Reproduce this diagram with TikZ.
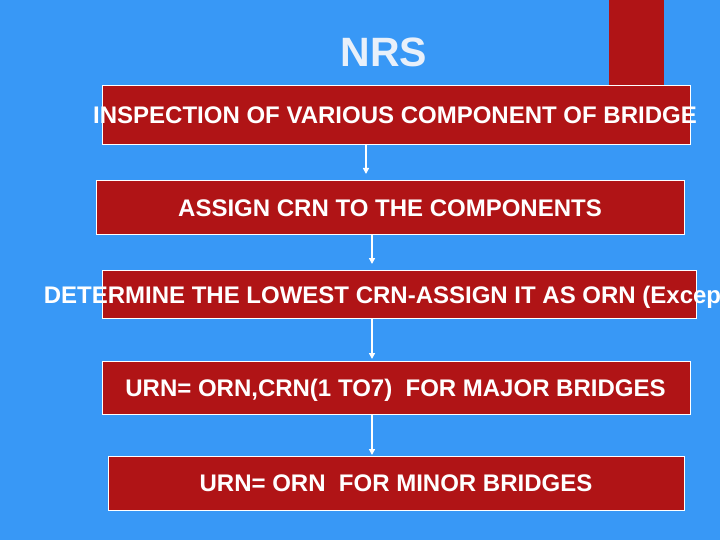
\documentclass[tikz,border=0pt]{standalone}
\usepackage{fontspec}
\setmainfont{Liberation Sans}
\usetikzlibrary{arrows.meta}
\definecolor{bgblue}{RGB}{56,152,246}
\definecolor{boxred}{RGB}{176,20,22}
\definecolor{titlecol}{RGB}{232,240,250}
\tikzset{
  stepbox/.style={fill=boxred,draw=white,line width=0.8pt},
  boxtext/.style={text=white,font=\fontsize{24}{28}\selectfont\bfseries,inner sep=0pt,anchor=base},
  flow/.style={draw=white,line width=1.4pt,-{Triangle[length=6pt,width=6pt]}}
}
\begin{document}
\begin{tikzpicture}[x=1pt,y=-1pt]
\useasboundingbox (0,0) rectangle (720,540);
\fill[bgblue] (0,0) rectangle (720,540);
% red bar top
\fill[boxred] (609,0) rectangle (664,85);
% title
\node[text=titlecol,font=\fontsize{41}{46}\selectfont\bfseries,inner sep=0pt,anchor=base] (title) at (384,67) {NRS};
% boxes
\draw[stepbox] (102,85) rectangle (690,144);
\coordinate (b1s) at (366,144);
\draw[stepbox] (96,180) rectangle (684,234);
\coordinate (b2n) at (366,174);
\coordinate (b2s) at (372,234);
\draw[stepbox] (102,270) rectangle (696,318);
\coordinate (b3n) at (372,264);
\coordinate (b3s) at (372,318);
\draw[stepbox] (102,361) rectangle (690,414);
\coordinate (b4n) at (372,359);
\coordinate (b4s) at (372,414);
\draw[stepbox] (108,456) rectangle (684,510);
\coordinate (b5n) at (372,455);
% texts
\node[boxtext] (t1) at (395,123.5) {INSPECTION OF VARIOUS COMPONENT OF BRIDGE};
\node[boxtext] (t2) at (390,216.5) {ASSIGN CRN TO THE COMPONENTS};
\node[boxtext,anchor=base west] (t3) at (43.6,303) {DETERMINE THE LOWEST CRN-ASSIGN IT AS ORN (Except};
\node[boxtext] (t4) at (395.5,396) {URN= ORN,CRN(1 TO7)\ \ FOR MAJOR BRIDGES};
\node[boxtext] (t5) at (396,491.5) {URN= ORN\ \ FOR MINOR BRIDGES};
% connectors
\draw[flow] (b1s) -- (b2n);
\draw[flow] (b2s) -- (b3n);
\draw[flow] (b3s) -- (b4n);
\draw[flow] (b4s) -- (b5n);
\end{tikzpicture}
\end{document}
